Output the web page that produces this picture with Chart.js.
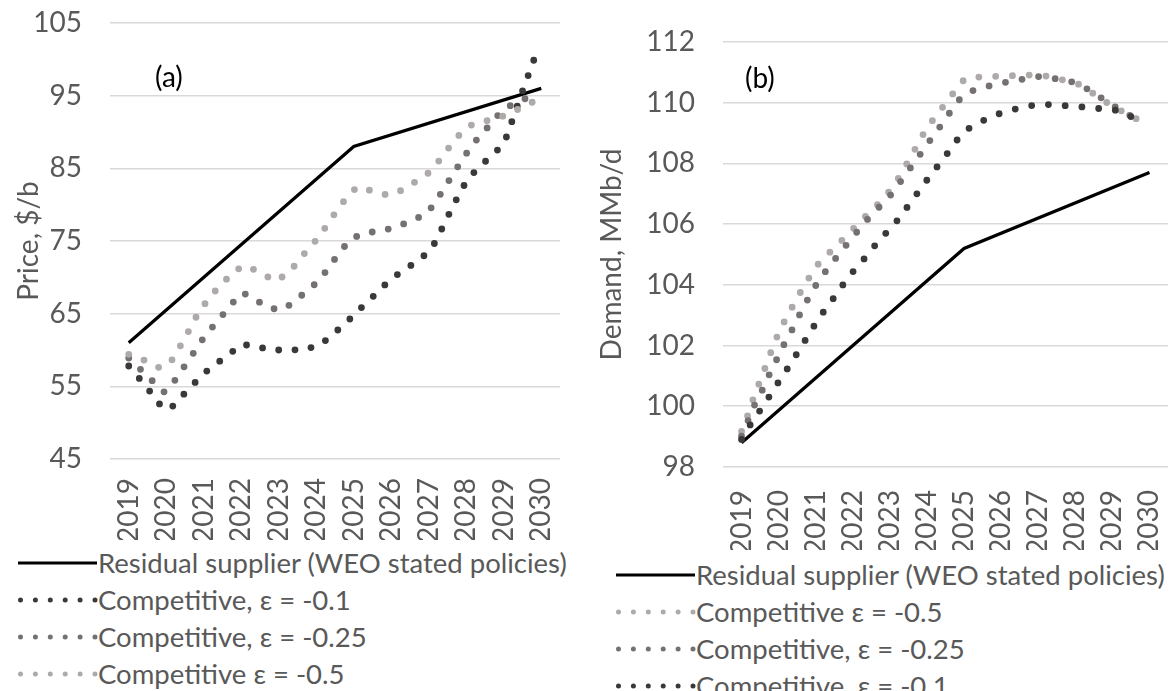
<!DOCTYPE html>
<html>
<head>
<meta charset="utf-8">
<script src="https://cdn.jsdelivr.net/npm/chart.js@4/dist/chart.umd.min.js"></script>
<style>
  html, body { margin: 0; padding: 0; background: #fff; }
  body { width: 1169px; height: 691px; position: relative; overflow: hidden; font-family: Lato, "Open Sans", sans-serif; }
  canvas { position: absolute; }
  .tag { position: absolute; font-size: 28px; line-height: 34px; color: #000; }
  .legend { position: absolute; font-size: 27.5px; color: #595959; }
  .legend .row { height: 37px; display: flex; align-items: center; white-space: nowrap; }
  .legend svg { flex: none; }
</style>
</head>
<body>
<canvas id="chartA" width="572" height="540" style="left:0;top:0"></canvas>
<canvas id="chartB" width="584" height="550" style="left:585px;top:0"></canvas>
<div class="tag" style="left:155px;top:59px">(a)</div>
<div class="tag" style="left:745px;top:60px">(b)</div>
<div class="legend" id="legendA" style="left:18px;top:544px"></div>
<div class="legend" id="legendB" style="left:616px;top:556px"></div>
<script>
// ---- axis ticks ----
const yearTicks = [2019, 2020, 2021, 2022, 2023, 2024, 2025, 2026, 2027, 2028, 2029, 2030];
const priceTicks = [45, 55, 65, 75, 85, 95, 105];
const demandTicks = [98, 100, 102, 104, 106, 108, 110, 112];

// ---- residual supplier (WEO stated policies): straight segments between these years ----
const residualYears = [2019, 2025, 2030];
const priceResidual = [61.0, 88.0, 96.0];
const demandResidual = [98.8, 105.2, 107.7];

// ---- (a) price, $/b ----
const priceEps01Years = [2019.00, 2019.28, 2019.55, 2019.81, 2020.09, 2020.39, 2020.69, 2020.98, 2021.33, 2021.67,
  2022.02, 2022.44, 2022.87, 2023.30, 2023.73, 2024.13, 2024.45, 2024.79, 2025.09, 2025.41, 2025.71, 2026.03,
  2026.39, 2026.75, 2027.07, 2027.27, 2027.45, 2027.65, 2027.85, 2028.07, 2028.37, 2028.69, 2029.01, 2029.15,
  2029.30, 2029.44, 2029.59, 2029.73, 2029.88];
const priceEps01 = [57.8, 56.1, 54.4, 52.6, 51.8, 53.5, 55.1, 56.7, 58.1, 59.4,
  60.8, 60.4, 60.0, 60.0, 60.1, 60.8, 62.2, 63.7, 65.3, 66.8, 68.4, 69.9,
  71.2, 72.4, 73.9, 75.8, 77.8, 79.8, 81.9, 83.7, 85.3, 86.8, 88.4, 90.5,
  92.6, 94.8, 96.9, 98.9, 101.0];

const priceEps025Years = [2019.00, 2019.32, 2019.64, 2019.95, 2020.20, 2020.45, 2020.69, 2020.93, 2021.19, 2021.47,
  2021.75, 2022.04, 2022.41, 2022.79, 2023.14, 2023.48, 2023.83, 2024.13, 2024.39, 2024.65, 2024.92, 2025.30,
  2025.72, 2026.13, 2026.53, 2026.93, 2027.19, 2027.41, 2027.65, 2027.88, 2028.13, 2028.40, 2028.69, 2028.97,
  2029.36, 2029.75];
const priceEps025 = [58.9, 57.3, 55.7, 54.2, 55.6, 57.5, 59.3, 61.2, 62.9, 64.6,
  66.4, 67.9, 66.8, 65.7, 65.6, 67.0, 68.4, 69.9, 71.8, 73.6, 75.3, 76.1,
  76.4, 76.9, 77.8, 78.7, 80.4, 82.3, 84.2, 86.1, 88.0, 89.7, 91.3, 93.1,
  94.1, 95.0];

const priceEps05Years = [2019.00, 2019.41, 2019.80, 2020.09, 2020.31, 2020.53, 2020.72, 2020.95, 2021.21, 2021.51,
  2021.81, 2022.13, 2022.52, 2022.90, 2023.21, 2023.51, 2023.79, 2024.07, 2024.31, 2024.55, 2024.81, 2025.08,
  2025.49, 2025.91, 2026.29, 2026.66, 2027.03, 2027.30, 2027.56, 2027.83, 2028.15, 2028.59, 2028.99, 2029.37,
  2029.76];
const priceEps05 = [59.4, 58.6, 57.6, 58.1, 60.0, 61.9, 63.9, 65.8, 67.6, 69.2,
  70.9, 71.6, 70.6, 69.5, 70.4, 72.1, 74.0, 75.5, 77.4, 79.2, 81.0, 82.4,
  81.9, 81.3, 82.0, 83.2, 84.5, 86.2, 88.0, 89.7, 91.0, 91.6, 92.2, 93.1,
  94.1];

// ---- (b) demand, MMb/d ----
const demandEps05Years = [2019.00, 2019.16, 2019.30, 2019.45, 2019.61, 2019.76, 2019.92, 2020.10, 2020.31, 2020.52,
  2020.75, 2020.96, 2021.25, 2021.57, 2021.89, 2022.19, 2022.52, 2022.82, 2023.09, 2023.33, 2023.53, 2023.75,
  2023.96, 2024.22, 2024.49, 2024.75, 2025.02, 2025.45, 2025.88, 2026.32, 2026.77, 2027.20, 2027.63, 2028.06,
  2028.44, 2028.80, 2029.18, 2029.56, 2029.95];
const demandEps05 = [99.17, 99.68, 100.19, 100.68, 101.18, 101.68, 102.19, 102.67, 103.14, 103.62,
  104.08, 104.54, 104.92, 105.30, 105.69, 106.08, 106.46, 106.83, 107.24, 107.70, 108.15, 108.62,
  109.10, 109.53, 109.96, 110.38, 110.79, 110.85, 110.87, 110.89, 110.91, 110.88, 110.76, 110.63,
  110.34, 110.04, 109.77, 109.53, 109.26];

const demandEps025Years = [2019.00, 2019.19, 2019.36, 2019.55, 2019.73, 2019.92, 2020.11, 2020.33, 2020.52, 2020.73,
  2020.94, 2021.19, 2021.45, 2021.72, 2021.99, 2022.27, 2022.55, 2022.89, 2023.16, 2023.41, 2023.67, 2023.92,
  2024.17, 2024.43, 2024.68, 2024.95, 2025.32, 2025.74, 2026.18, 2026.61, 2027.05, 2027.47, 2027.90, 2028.30,
  2028.66, 2029.05, 2029.43, 2029.86];
const demandEps025 = [99.02, 99.57, 100.07, 100.51, 101.00, 101.47, 101.96, 102.44, 102.91, 103.40,
  103.87, 104.32, 104.74, 105.15, 105.57, 105.97, 106.38, 106.76, 107.17, 107.62, 108.04, 108.48,
  108.91, 109.34, 109.79, 110.22, 110.45, 110.57, 110.69, 110.78, 110.87, 110.79, 110.69, 110.47,
  110.19, 109.88, 109.61, 109.35];

const demandEps01Years = [2019.00, 2019.24, 2019.48, 2019.72, 2019.96, 2020.20, 2020.44, 2020.67, 2020.90, 2021.13,
  2021.40, 2021.65, 2021.91, 2022.19, 2022.48, 2022.73, 2023.06, 2023.33, 2023.59, 2023.85, 2024.11, 2024.38,
  2024.64, 2024.90, 2025.23, 2025.62, 2026.03, 2026.44, 2026.88, 2027.32, 2027.75, 2028.19, 2028.63, 2029.05,
  2029.43, 2029.88];
const demandEps01 = [98.91, 99.40, 99.83, 100.27, 100.73, 101.17, 101.63, 102.08, 102.54, 102.98,
  103.42, 103.86, 104.30, 104.69, 105.11, 105.51, 105.90, 106.33, 106.77, 107.20, 107.64, 108.05,
  108.48, 108.92, 109.25, 109.47, 109.68, 109.81, 109.92, 109.94, 109.90, 109.86, 109.81, 109.77,
  109.58, 109.35];

// ---- series labels ----
const labelResidual = 'Residual supplier (WEO stated policies)';
const labelEps01 = 'Competitive, ε = -0.1';
const labelEps025 = 'Competitive, ε = -0.25';
const labelEps05 = 'Competitive ε = -0.5';

// ---- styling ----
const TEXT = '#595959';
const GRID = '#d9d9d9';
const DARK = '#3b3838';
const MID = '#767171';
const LIGHT = '#aeaaaa';
const FONT = { family: 'Lato, "Open Sans", sans-serif', size: 28 };

function pts(xs, ys) { return xs.map((x, i) => ({ x: x, y: ys[i] })); }

function solid(label, xs, ys, order) {
  return { label, data: pts(xs, ys), borderColor: '#000', borderWidth: 3.2,
    borderJoinStyle: 'miter', borderCapStyle: 'butt', pointRadius: 0, order, solid: true };
}
function dotted(label, xs, ys, color, gap, order) {
  return { label, data: pts(xs, ys), borderColor: color, borderWidth: 6.8,
    borderDash: [0, gap], borderCapStyle: 'round', borderJoinStyle: 'round', pointRadius: 0, order };
}

function makeChart(id, datasets, yMin, yMax, yTicks, yTitle, opt) {
  return new Chart(document.getElementById(id), {
    type: 'line',
    data: { datasets },
    options: {
      responsive: false, animation: false, devicePixelRatio: 1,
      layout: { padding: { top: opt.top, right: opt.right, left: 0, bottom: 0 } },
      plugins: { legend: { display: false }, tooltip: { enabled: false } },
      elements: { line: { tension: 0 } },
      scales: {
        x: {
          type: 'linear', min: 2018.5, max: 2030.5,
          afterBuildTicks: s => { s.ticks = yearTicks.map(v => ({ value: v })); },
          ticks: { minRotation: 90, maxRotation: 90, padding: opt.xPad, color: TEXT, font: FONT,
            autoSkip: false, callback: v => String(v) },
          grid: { display: false, drawTicks: false },
          border: { display: false },
          afterFit: s => { s.height = opt.xHeight; s.paddingLeft = 0; s.paddingRight = 0; }
        },
        y: {
          min: yMin, max: yMax,
          afterBuildTicks: s => { s.ticks = yTicks.map(v => ({ value: v })); },
          ticks: { padding: 28, color: TEXT, font: FONT },
          grid: { color: GRID, lineWidth: 1.6, drawTicks: false },
          border: { display: false },
          title: { display: true, text: yTitle, color: TEXT, font: FONT, padding: { top: opt.titlePad, bottom: 0 } },
          afterFit: s => { s.width = opt.yWidth; s.paddingTop = 0; s.paddingBottom = 0; }
        }
      }
    }
  });
}

// (a) price
const dsA = [
  solid(labelResidual, residualYears, priceResidual, 4),
  dotted(labelEps01, priceEps01Years, priceEps01, DARK, 16.3, 3),
  dotted(labelEps025, priceEps025Years, priceEps025, MID, 16.3, 2),
  dotted(labelEps05, priceEps05Years, priceEps05, LIGHT, 16.3, 1)
];
makeChart('chartA', dsA, 45, 105, priceTicks, 'Price, $/b',
  { top: 23, right: 12, xPad: 19, xHeight: 81, yWidth: 110, titlePad: 12 });

// (b) demand
const dsB = [
  solid(labelResidual, residualYears, demandResidual, 4),
  dotted(labelEps05, demandEps05Years, demandEps05, LIGHT, 16.8, 3),
  dotted(labelEps025, demandEps025Years, demandEps025, MID, 16.8, 2),
  dotted(labelEps01, demandEps01Years, demandEps01, DARK, 16.8, 1)
];
makeChart('chartB', dsB, 98, 112, demandTicks, 'Demand, MMb/d',
  { top: 42, right: 1, xPad: 23, xHeight: 83, yWidth: 138, titlePad: 10 });

// legends (series order as listed)
function buildLegend(el, datasets) {
  const NS = 'http://www.w3.org/2000/svg';
  datasets.forEach(ds => {
    const row = document.createElement('div');
    row.className = 'row';
    const svg = document.createElementNS(NS, 'svg');
    svg.setAttribute('width', '80');
    svg.setAttribute('height', '20');
    const line = document.createElementNS(NS, 'line');
    line.setAttribute('x1', ds.solid ? '0' : '2.5');
    line.setAttribute('x2', ds.solid ? '79' : '77.5');
    line.setAttribute('y1', '10');
    line.setAttribute('y2', '10');
    line.setAttribute('stroke', ds.borderColor);
    if (ds.solid) {
      line.setAttribute('stroke-width', '3');
    } else {
      line.setAttribute('stroke-width', '5');
      line.setAttribute('stroke-linecap', 'round');
      line.setAttribute('stroke-dasharray', '0 14.9');
    }
    svg.appendChild(line);
    const txt = document.createElement('span');
    txt.textContent = ds.label;
    row.appendChild(svg);
    row.appendChild(txt);
    el.appendChild(row);
  });
}
buildLegend(document.getElementById('legendA'), dsA);
buildLegend(document.getElementById('legendB'), dsB);
</script>
</body>
</html>
